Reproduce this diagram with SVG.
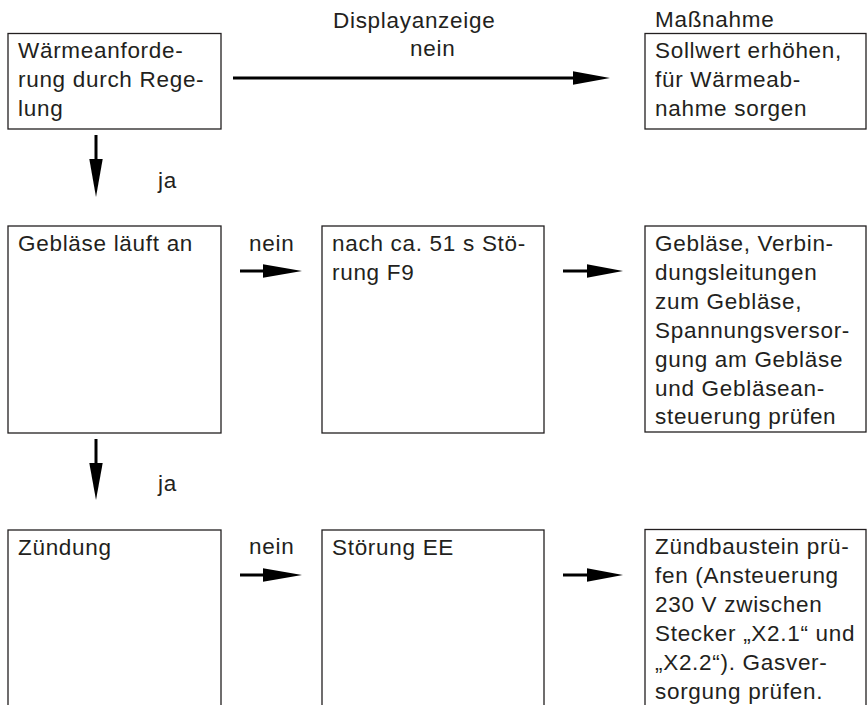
<svg xmlns="http://www.w3.org/2000/svg" width="867" height="705" viewBox="0 0 867 705">
<style>
text{font-family:"Liberation Sans",Arial,sans-serif;font-size:22.5px;letter-spacing:0.7px;fill:#231f20}
.box{fill:#fff;stroke:#231f20;stroke-width:1.3}
.con{stroke:#000;stroke-width:3;fill:none}
.head{fill:#000}
</style>
<rect width="867" height="705" fill="#fff"/>
<g id="labels">
<text x="333" y="28">Displayanzeige</text>
<text x="410" y="56">nein</text>
<text x="655" y="27">Maßnahme</text>
<text x="158" y="188">ja</text>
<text x="158" y="491">ja</text>
<text x="249" y="251">nein</text>
<text x="249" y="554">nein</text>
</g>
<g id="connectors">
<line class="con" x1="233" y1="78" x2="580" y2="78"/>
<polygon class="head" points="573,71.3 610,78 573,84.7"/>
<line class="con" x1="96" y1="135" x2="96" y2="165"/>
<polygon class="head" points="89.3,159 96,197 102.7,159"/>
<line class="con" x1="96" y1="439" x2="96" y2="469"/>
<polygon class="head" points="89.3,463 96,500 102.7,463"/>
<line class="con" x1="240" y1="271" x2="268" y2="271"/>
<polygon class="head" points="263,264.3 302,271 263,277.7"/>
<line class="con" x1="563" y1="271" x2="592" y2="271"/>
<polygon class="head" points="587,264.3 623,271 587,277.7"/>
<line class="con" x1="240" y1="575" x2="268" y2="575"/>
<polygon class="head" points="263,568.3 302,575 263,581.7"/>
<line class="con" x1="563" y1="575" x2="592" y2="575"/>
<polygon class="head" points="587,568.3 623,575 587,581.7"/>
</g>
<g id="n1">
<rect class="box" x="8" y="33.5" width="213" height="95.5"/>
<text x="18" y="58">Wärmeanforde-</text>
<text x="18" y="87">rung durch Rege-</text>
<text x="18" y="116">lung</text>
</g>
<g id="n2">
<rect class="box" x="645" y="33.5" width="221" height="95.5"/>
<text x="655" y="58">Sollwert erhöhen,</text>
<text x="655" y="87">für Wärmeab-</text>
<text x="655" y="116">nahme sorgen</text>
</g>
<g id="n3">
<rect class="box" x="8" y="226" width="213" height="207"/>
<text x="18" y="251">Gebläse läuft an</text>
</g>
<g id="n4">
<rect class="box" x="322" y="226" width="222" height="207"/>
<text x="332" y="251">nach ca. 51 s Stö-</text>
<text x="332" y="280">rung F9</text>
</g>
<g id="n5">
<rect class="box" x="645" y="226" width="221" height="206"/>
<text x="655" y="251">Gebläse, Verbin-</text>
<text x="655" y="280">dungsleitungen</text>
<text x="655" y="309">zum Gebläse,</text>
<text x="655" y="338">Spannungsversor-</text>
<text x="655" y="367">gung am Gebläse</text>
<text x="655" y="396">und Gebläsean-</text>
<text x="655" y="424">steuerung prüfen</text>
</g>
<g id="n6">
<rect class="box" x="8" y="530" width="213" height="190"/>
<text x="18" y="555">Zündung</text>
</g>
<g id="n7">
<rect class="box" x="322" y="530" width="222" height="190"/>
<text x="332" y="555">Störung EE</text>
</g>
<g id="n8">
<rect class="box" x="645" y="529.5" width="221" height="190"/>
<text x="655" y="554">Zündbaustein prü-</text>
<text x="655" y="583">fen (Ansteuerung</text>
<text x="655" y="612">230 V zwischen</text>
<text x="655" y="641">Stecker „X2.1“ und</text>
<text x="655" y="670">„X2.2“). Gasver-</text>
<text x="655" y="699">sorgung prüfen.</text>
</g>
</svg>
